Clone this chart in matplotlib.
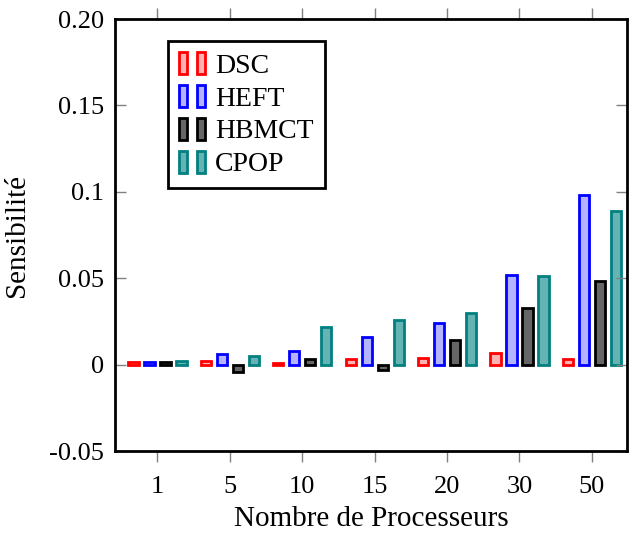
import matplotlib
matplotlib.use("Agg")
import matplotlib.pyplot as plt
import numpy as np
from matplotlib.patches import Rectangle
from matplotlib.legend_handler import HandlerTuple

# values
procs = ["1", "5", "10", "15", "20", "30", "50"]
dsc = [0.0015, 0.002, 0.001, 0.003, 0.004, 0.007, 0.003]
heft = [0.0015, 0.006, 0.008, 0.016, 0.024, 0.052, 0.098]
hbmct = [0.0015, -0.004, 0.003, -0.003, 0.014, 0.033, 0.0485]
cpop = [0.002, 0.005, 0.022, 0.026, 0.030, 0.051, 0.089]
yticks = [-0.05, 0, 0.05, 0.1, 0.15, 0.2]
yticklabels = ["-0.05", "0", "0.05", "0.1", "0.15", "0.20"]

series = [
    ("DSC", dsc, "#ff0000", "#ffb3b3"),
    ("HEFT", heft, "#0000ff", "#b3b3ff"),
    ("HBMCT", hbmct, "#000000", "#666666"),
    ("CPOP", cpop, "#008080", "#66b3b3"),
]

plt.rcParams['font.family'] = ['Liberation Serif', 'DejaVu Serif']
plt.rcParams['font.size'] = 19

fig = plt.figure(figsize=(6.29, 5.33), dpi=100)
ax = fig.add_axes([0.1828, 0.1538, 0.814, 0.8105])

x = np.arange(len(procs))
offsets = [-0.331, -0.11, 0.11, 0.331]
handles = []
for (name, vals, ec, fc), off in zip(series, offsets):
    ax.bar(x + off, vals, width=0.14, color=fc, edgecolor=ec, linewidth=2)
    h = (Rectangle((0, 0), 1, 1, facecolor=fc, edgecolor=ec, linewidth=2),
         Rectangle((0, 0), 1, 1, facecolor=fc, edgecolor=ec, linewidth=2))
    handles.append(h)

ax.set_xlim(-0.587, 6.485)
ax.set_ylim(-0.05, 0.2)
ax.set_xticks(x)
ax.set_xticklabels(procs)
ax.set_yticks(yticks)
ax.set_yticklabels(yticklabels)

ax.tick_params(axis='y', direction='in', length=8, width=1, color='#808080',
               left=True, right=True, pad=8, labelsize=19)
ax.tick_params(axis='x', direction='out', length=8, width=1, color='#808080',
               top=True, bottom=True, pad=10, labelsize=19)
for s in ax.spines.values():
    s.set_linewidth(2)

ax.set_xlabel("Nombre de Processeurs", labelpad=6, fontsize=21)
ax.set_ylabel("Sensibilité", labelpad=14, fontsize=21)

leg = ax.legend(handles, [s[0] for s in series],
                handler_map={tuple: HandlerTuple(ndivide=None, pad=0.35)},
                loc='upper left', bbox_to_anchor=(0.103, 0.949), borderaxespad=0,
                fancybox=False, edgecolor='black', framealpha=1,
                handlelength=0.95, handleheight=0.85, handletextpad=0.35,
                labelspacing=0.22, borderpad=0.4, fontsize=20)
leg.get_frame().set_linewidth(2)

fig.savefig("out.png", dpi=100)
